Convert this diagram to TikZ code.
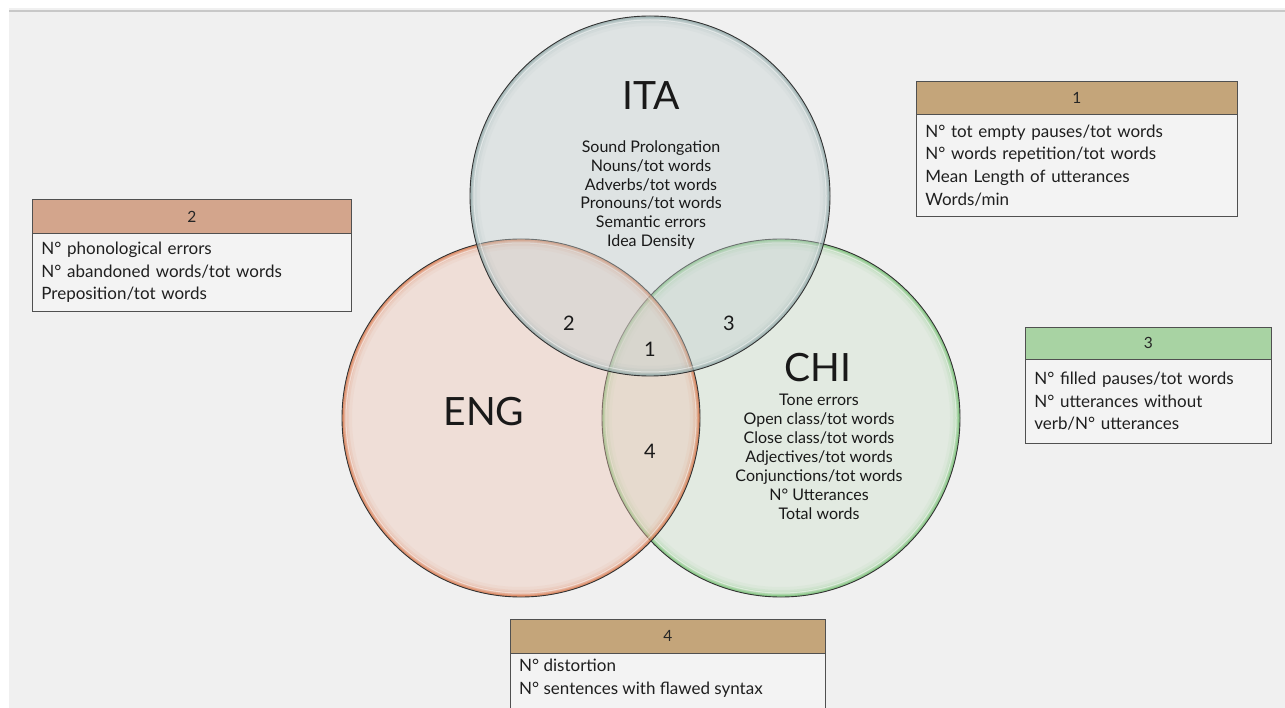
\documentclass[tikz,border=0pt]{standalone}
\usepackage{fontspec}
\setmainfont{Lato}
\definecolor{bgcol}{HTML}{F0F0F0}
\definecolor{topline}{HTML}{C8C8C8}
\definecolor{itafill}{HTML}{C4D0D0}
\definecolor{itaedge}{HTML}{8FA8A8}
\definecolor{engfill}{HTML}{EEC4B2}
\definecolor{engedge}{HTML}{D9703F}
\definecolor{chifill}{HTML}{CFE2CC}
\definecolor{chiedge}{HTML}{6CBE6A}
\definecolor{hdrtan}{HTML}{C4A57A}
\definecolor{hdrsalmon}{HTML}{D3A58C}
\definecolor{hdrgreen}{HTML}{A8D3A3}
\definecolor{bodyfill}{HTML}{F3F3F3}
\definecolor{boxline}{HTML}{505050}
\newcommand\glassdisc[4]{%
  \fill[#3, fill opacity=0.4] #1 circle (#2pt);
  \begin{scope}
    \clip #1 circle (#2pt);
    \foreach \w/\o in {20/0.05,14/0.09,10/0.15,6/0.25,3.5/0.45}{%
      \draw[#4, line width=\w pt, opacity=\o] #1 circle (#2pt);}
  \end{scope}
  \draw[white, line width=1pt, opacity=0.45] #1 circle (#2pt-4pt);
  \draw[black!80, line width=0.9pt] #1 circle (#2pt);
}
\begin{document}
\begin{tikzpicture}[x=1pt,y=-1pt,
  hdr/.style={draw=boxline, line width=0.8pt, anchor=north west, inner sep=0pt,
    font=\fontsize{15.5}{18}\selectfont, text=black!85},
  bodybox/.style={draw=boxline, line width=0.8pt, fill=bodyfill, anchor=north west,
    inner xsep=9pt, inner ysep=0pt, align=left,
    font=\fontsize{17}{22.7}\selectfont, text=black!88},
  title/.style={font=\fontsize{39}{44}\selectfont, text=black!90},
  list/.style={align=center, font=\fontsize{16}{18.9}\selectfont, text=black!90, inner sep=0pt},
  num/.style={font=\fontsize{20}{24}\selectfont, text=black!90}]
\useasboundingbox (0,0) rectangle (1285,708);
\fill[white] (0,0) rectangle (1285,708);
\fill[bgcol] (9,8) rectangle (1285,708);
\draw[topline, line width=1.2pt] (9,11) -- (1285,11);

\coordinate (chi) at (781,418);
\coordinate (eng) at (521,418);
\coordinate (ita) at (650,196);
\glassdisc{(chi)}{179}{chifill}{chiedge}
\glassdisc{(eng)}{179}{engfill}{engedge}
\glassdisc{(ita)}{180}{itafill}{itaedge}

\node[title] (itat) at (651,96) {ITA};
\node[list] (ital) at (651,195) {Sound Prolongation\\Nouns/tot words\\Adverbs/tot words\\Pronouns/tot words\\Semantic errors\\Idea Density};
\node[title] (engt) at (484,412) {ENG};
\node[title] (chit) at (818,368) {CHI};
\node[list] (chil) at (819,457) {Tone errors\\Open class/tot words\\Close class/tot words\\Adjectives/tot words\\Conjunctions/tot words\\N° Utterances\\Total words};

\node[num] (n2) at (569,323) {2};
\node[num] (n1) at (650,349) {1};
\node[num] (n3) at (729,323) {3};
\node[num] (n4) at (650,451) {4};

% box 1
\node[hdr, fill=hdrtan, minimum width=321pt, minimum height=33pt] (h1) at (916,81) {1};
\node[bodybox, text width=303pt, minimum height=102pt] (b1) at (916,114)
  {N° tot empty pauses/tot words\\N° words repetition/tot words\\Mean Length of utterances\\Words/min};
% box 2
\node[hdr, fill=hdrsalmon, minimum width=319pt, minimum height=34pt] (h2) at (32,199) {2};
\node[bodybox, text width=301pt, minimum height=78pt] (b2) at (32,233)
  {N° phonological errors\\N° abandoned words/tot words\\Preposition/tot words};
% box 3
\node[hdr, fill=hdrgreen, minimum width=246pt, minimum height=32pt] (h3) at (1025,327) {3};
\node[bodybox, text width=228pt, minimum height=84pt] (b3) at (1025,359)
  {N° filled pauses/tot words\\N° utterances without\\verb/N° utterances};
% box 4
\node[hdr, fill=hdrtan, minimum width=315pt, minimum height=34pt] (h4) at (510,619) {4};
\node[bodybox, minimum width=315pt, minimum height=80pt] (b4) at (510,653) {};
\node[anchor=north west, inner sep=0pt, align=left, font=\fontsize{17}{22.7}\selectfont, text=black!88] (t4) at (519,659)
  {N° distortion\\N° sentences with flawed syntax};
\end{tikzpicture}
\end{document}
